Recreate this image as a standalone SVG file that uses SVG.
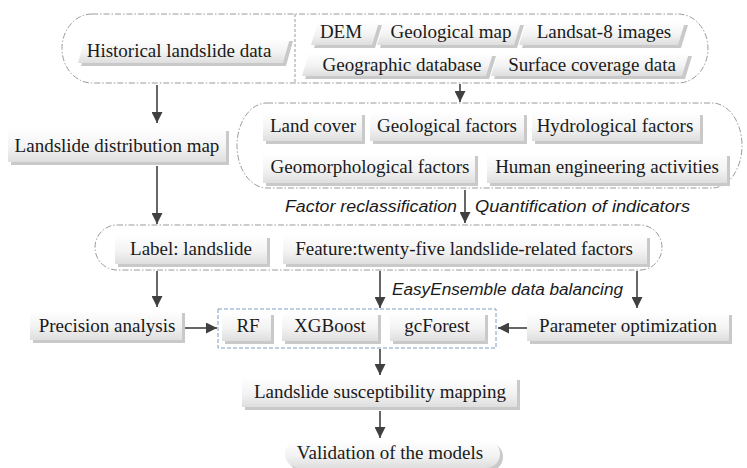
<svg xmlns="http://www.w3.org/2000/svg" width="747" height="468" viewBox="0 0 747 468">
<defs>
<linearGradient id="tabg" x1="0" y1="0" x2="0" y2="1">
<stop offset="0" stop-color="#ffffff"/>
<stop offset="0.55" stop-color="#f3f3f3"/>
<stop offset="1" stop-color="#dedede"/>
</linearGradient>
<marker id="ah" viewBox="0 0 10 10" refX="10" refY="5" markerWidth="11" markerHeight="11" markerUnits="userSpaceOnUse" orient="auto">
<path d="M0,0 L10,5 L0,10 Z" fill="#404040"/>
</marker>
</defs>
<style>
.cont{fill:none;stroke:#9a9a9a;stroke-width:1;stroke-dasharray:6 2 1.5 2}
.contb{fill:none;stroke:#7f9cc0;stroke-width:1;stroke-dasharray:4 2}
.div{fill:none;stroke:#9a9a9a;stroke-width:1;stroke-dasharray:3 2}
.sh{fill:#c9c9c9}
.tab{fill:url(#tabg)}
.t{font-family:"Liberation Serif","Times New Roman",serif;font-size:19px;fill:#1a1a1a;text-anchor:middle}
.it{font-family:"Liberation Sans",Arial,sans-serif;font-style:italic;font-size:16px;fill:#1a1a1a}
.arr{stroke:#404040;stroke-width:1.6;fill:none;marker-end:url(#ah)}
</style>
<rect width="747" height="468" fill="#ffffff"/>

<!-- containers -->
<g id="containers">
<rect class="cont" x="62" y="14" width="646" height="69" rx="30" ry="34.5"/>
<line class="div" x1="295" y1="14" x2="295" y2="83"/>
<rect class="cont" x="237" y="103" width="505" height="85" rx="30" ry="42.5"/>
<rect class="cont" x="95" y="225" width="567" height="45" rx="22" ry="22.5"/>
<rect class="contb" x="218" y="309" width="278" height="39"/>
</g>

<!-- top row -->
<g id="n-historical">
<polygon class="sh" points="81,66 88,41 293,41 286,66"/>
<polygon class="tab" points="78,63 85,38 290,38 283,63"/>
<text class="t" x="179" y="57">Historical landslide data</text>
</g>
<g id="n-dem">
<polygon class="sh" points="314,48 321,25 382,25 375,48"/>
<polygon class="tab" points="311,45 318,22 379,22 372,45"/>
<text class="t" x="341" y="38">DEM</text>
</g>
<g id="n-geomap">
<polygon class="sh" points="380,48 387,25 524,25 517,48"/>
<polygon class="tab" points="377,45 384,22 521,22 514,45"/>
<text class="t" x="451" y="38">Geological map</text>
</g>
<g id="n-landsat">
<polygon class="sh" points="522,48 529,25 688,25 681,48"/>
<polygon class="tab" points="519,45 526,22 685,22 678,45"/>
<text class="t" x="604" y="38">Landsat-8 images</text>
</g>
<g id="n-geodb">
<polygon class="sh" points="305,79 312,56 496,56 489,79"/>
<polygon class="tab" points="302,76 309,53 493,53 486,76"/>
<text class="t" x="402" y="71">Geographic database</text>
</g>
<g id="n-surface">
<polygon class="sh" points="494,79 501,56 692,56 685,79"/>
<polygon class="tab" points="491,76 498,53 689,53 682,76"/>
<text class="t" x="592" y="71">Surface coverage data</text>
</g>

<!-- landslide distribution map -->
<g id="n-distmap">
<rect class="sh" x="11" y="131" width="218" height="34"/>
<rect class="tab" x="8" y="128" width="218" height="34"/>
<text class="t" x="117" y="152">Landslide distribution map</text>
</g>

<!-- factors -->
<g id="n-landcover">
<rect class="sh" x="266" y="115" width="99" height="29"/>
<rect class="tab" x="263" y="112" width="99" height="29"/>
<text class="t" x="313" y="132">Land cover</text>
</g>
<g id="n-geofac">
<rect class="sh" x="373" y="115" width="154" height="29"/>
<rect class="tab" x="370" y="112" width="154" height="29"/>
<text class="t" x="447" y="132">Geological factors</text>
</g>
<g id="n-hydro">
<rect class="sh" x="535" y="115" width="168" height="29"/>
<rect class="tab" x="532" y="112" width="168" height="29"/>
<text class="t" x="615" y="132">Hydrological factors</text>
</g>
<g id="n-geomorph">
<rect class="sh" x="266" y="156" width="212" height="30"/>
<rect class="tab" x="263" y="153" width="212" height="30"/>
<text class="t" x="370" y="173">Geomorphological factors</text>
</g>
<g id="n-human">
<rect class="sh" x="490" y="156" width="240" height="30"/>
<rect class="tab" x="487" y="153" width="240" height="30"/>
<text class="t" x="607" y="173">Human engineering activities</text>
</g>

<!-- label / feature -->
<g id="n-label">
<rect class="sh" x="118" y="238" width="152" height="29"/>
<rect class="tab" x="115" y="235" width="152" height="29"/>
<text class="t" x="191" y="255">Label: landslide</text>
</g>
<g id="n-feature">
<rect class="sh" x="286" y="238" width="364" height="29"/>
<rect class="tab" x="283" y="235" width="364" height="29"/>
<text class="t" x="464" y="255">Feature:twenty-five landslide-related factors</text>
</g>

<!-- models row -->
<g id="n-precision">
<rect class="sh" x="33" y="313" width="152" height="30"/>
<rect class="tab" x="30" y="310" width="152" height="30"/>
<text class="t" x="107" y="332">Precision analysis</text>
</g>
<g id="n-rf">
<rect class="sh" x="225" y="315" width="49" height="29"/>
<rect class="tab" x="222" y="312" width="49" height="29"/>
<text class="t" x="248" y="332">RF</text>
</g>
<g id="n-xgb">
<rect class="sh" x="285" y="315" width="96" height="29"/>
<rect class="tab" x="282" y="312" width="96" height="29"/>
<text class="t" x="330" y="332">XGBoost</text>
</g>
<g id="n-gcf">
<rect class="sh" x="393" y="315" width="95" height="29"/>
<rect class="tab" x="390" y="312" width="95" height="29"/>
<text class="t" x="437" y="332">gcForest</text>
</g>
<g id="n-param">
<rect class="sh" x="530" y="315" width="202" height="29"/>
<rect class="tab" x="527" y="312" width="202" height="29"/>
<text class="t" x="628" y="332">Parameter optimization</text>
</g>

<!-- bottom -->
<g id="n-lsm">
<rect class="sh" x="245" y="380" width="275" height="30"/>
<rect class="tab" x="242" y="377" width="275" height="30"/>
<text class="t" x="380" y="398">Landslide susceptibility mapping</text>
</g>
<g id="n-valid">
<rect class="sh" x="288" y="443" width="215" height="28" rx="14"/>
<rect class="tab" x="285" y="440" width="215" height="28" rx="14"/>
<text class="t" x="390" y="459">Validation of the models</text>
</g>

<!-- edge labels -->
<g id="labels">
<text class="it" x="457" y="212" text-anchor="end" textLength="172" lengthAdjust="spacingAndGlyphs">Factor reclassification</text>
<text class="it" x="475" y="212" textLength="215" lengthAdjust="spacingAndGlyphs">Quantification of indicators</text>
<text class="it" x="392" y="295" textLength="231" lengthAdjust="spacingAndGlyphs">EasyEnsemble data balancing</text>
</g>

<!-- connectors -->
<g id="connectors">
<line class="arr" x1="157" y1="85" x2="157" y2="123"/>
<line class="arr" x1="460" y1="84" x2="460" y2="102"/>
<line class="arr" x1="157" y1="166" x2="157" y2="224"/>
<line class="arr" x1="465" y1="190" x2="465" y2="223"/>
<line class="arr" x1="157" y1="271" x2="157" y2="307"/>
<line class="arr" x1="380" y1="271" x2="380" y2="308"/>
<line class="arr" x1="637" y1="271" x2="637" y2="308"/>
<line class="arr" x1="185" y1="328" x2="217" y2="328"/>
<line class="arr" x1="527" y1="328" x2="498" y2="328"/>
<line class="arr" x1="380" y1="349" x2="380" y2="375"/>
<line class="arr" x1="380" y1="411" x2="380" y2="438"/>
</g>
</svg>
